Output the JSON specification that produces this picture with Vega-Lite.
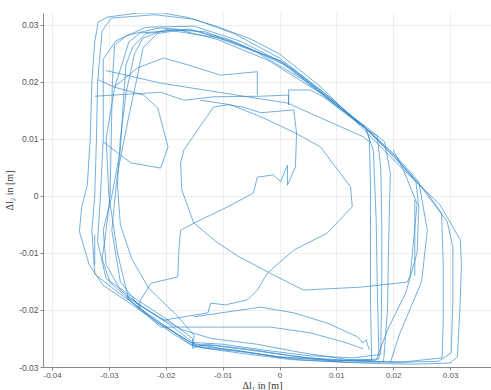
{
"$schema": "https://vega.github.io/schema/vega-lite/v6.json",
"width": 448, "height": 354,
"autosize": {"type": "none"},
"padding": {"left": 43, "top": 13, "right": 0, "bottom": 23},
"background": "white",
"config": {"view": {"stroke": null}, "axis": {"labelFont": "Liberation Sans", "labelFontSize": 8.5, "labelColor": "#555555", "gridColor": "#e8e8e8", "gridWidth": 0.8, "domainColor": "#8a8a8a", "tickColor": "#8a8a8a", "tickSize": 3, "titleFont": "Liberation Serif", "titleFontSize": 10, "titleFontWeight": "normal", "titleColor": "#333333"}},
"data": {"values": [
{"s":1,"x":-0.0319,"y":0.0305},{"s":1,"x":-0.0302,"y":0.0314},{"s":1,"x":-0.0249,"y":0.0321},{"s":1,"x":-0.0204,"y":0.0321},{"s":1,"x":-0.0161,"y":0.0313},{"s":1,"x":-0.0109,"y":0.0297},{"s":1,"x":-0.005,"y":0.0275},{"s":1,"x":0.0,"y":0.0249},{"s":1,"x":0.0072,"y":0.0192},{"s":1,"x":0.0142,"y":0.0123},{"s":1,"x":0.0212,"y":0.0052},{"s":1,"x":0.0282,"y":-0.0015},{"s":1,"x":0.0318,"y":-0.0077},{"s":1,"x":0.032,"y":-0.012},{"s":1,"x":0.0318,"y":-0.0182},{"s":1,"x":0.0313,"y":-0.0282},{"s":1,"x":0.03,"y":-0.0293},{"s":1,"x":0.024,"y":-0.0295},{"s":1,"x":0.017,"y":-0.0294},{"s":1,"x":0.01,"y":-0.0291},{"s":1,"x":0.002,"y":-0.0287},{"s":1,"x":-0.006,"y":-0.0277},{"s":1,"x":-0.0125,"y":-0.0268},{"s":1,"x":-0.0155,"y":-0.0262},{"s":1,"x":-0.019,"y":-0.024},{"s":1,"x":-0.025,"y":-0.0197},{"s":1,"x":-0.031,"y":-0.0157},{"s":1,"x":-0.0335,"y":-0.012},{"s":1,"x":-0.0352,"y":-0.0062},{"s":1,"x":-0.0348,"y":-0.002},{"s":1,"x":-0.0338,"y":0.002},{"s":1,"x":-0.0333,"y":0.01},{"s":1,"x":-0.033,"y":0.02},{"s":1,"x":-0.0325,"y":0.027},{"s":1,"x":-0.0319,"y":0.0305},
{"s":2,"x":-0.0312,"y":0.029},{"s":2,"x":-0.0296,"y":0.0312},{"s":2,"x":-0.022,"y":0.0318},{"s":2,"x":-0.015,"y":0.031},{"s":2,"x":-0.008,"y":0.0285},{"s":2,"x":0.0,"y":0.0242},{"s":2,"x":0.007,"y":0.0188},{"s":2,"x":0.0148,"y":0.0122},{"s":2,"x":0.02,"y":0.007},{"s":2,"x":0.025,"y":0.0015},{"s":2,"x":0.0295,"y":-0.0045},{"s":2,"x":0.0305,"y":-0.009},{"s":2,"x":0.0305,"y":-0.018},{"s":2,"x":0.0302,"y":-0.0275},{"s":2,"x":0.028,"y":-0.029},{"s":2,"x":0.02,"y":-0.0292},{"s":2,"x":0.01,"y":-0.0288},{"s":2,"x":0.0,"y":-0.0282},{"s":2,"x":-0.01,"y":-0.0268},{"s":2,"x":-0.0155,"y":-0.0258},{"s":2,"x":-0.021,"y":-0.0222},{"s":2,"x":-0.028,"y":-0.0172},{"s":2,"x":-0.0325,"y":-0.0137},{"s":2,"x":-0.033,"y":-0.006},{"s":2,"x":-0.0325,"y":0.0},{"s":2,"x":-0.0322,"y":0.01},{"s":2,"x":-0.032,"y":0.02},{"s":2,"x":-0.0312,"y":0.029},
{"s":3,"x":-0.029,"y":0.0265},{"s":3,"x":-0.0268,"y":0.0282},{"s":3,"x":-0.021,"y":0.0295},{"s":3,"x":-0.015,"y":0.029},{"s":3,"x":-0.009,"y":0.0272},{"s":3,"x":0.0,"y":0.0238},{"s":3,"x":0.008,"y":0.0178},{"s":3,"x":0.0151,"y":0.0121},{"s":3,"x":0.0158,"y":0.01},{"s":3,"x":0.016,"y":0.002},{"s":3,"x":0.016,"y":-0.008},{"s":3,"x":0.016,"y":-0.018},{"s":3,"x":0.0162,"y":-0.0288},{"s":3,"x":0.012,"y":-0.0287},{"s":3,"x":0.004,"y":-0.0275},{"s":3,"x":-0.004,"y":-0.026},{"s":3,"x":-0.012,"y":-0.025},{"s":3,"x":-0.017,"y":-0.0235},{"s":3,"x":-0.022,"y":-0.0208},{"s":3,"x":-0.0265,"y":-0.018},{"s":3,"x":-0.0298,"y":-0.0152},{"s":3,"x":-0.0312,"y":-0.011},{"s":3,"x":-0.0305,"y":-0.006},{"s":3,"x":-0.0298,"y":0.0},{"s":3,"x":-0.0296,"y":0.01},{"s":3,"x":-0.0294,"y":0.02},{"s":3,"x":-0.029,"y":0.0265},
{"s":4,"x":-0.027,"y":0.023},{"s":4,"x":-0.0258,"y":0.0262},{"s":4,"x":-0.0235,"y":0.0285},{"s":4,"x":-0.018,"y":0.0292},{"s":4,"x":-0.011,"y":0.0275},{"s":4,"x":-0.002,"y":0.0238},{"s":4,"x":0.007,"y":0.0182},{"s":4,"x":0.0151,"y":0.0119},{"s":4,"x":0.0172,"y":0.0105},{"s":4,"x":0.0178,"y":0.005},{"s":4,"x":0.018,"y":-0.005},{"s":4,"x":0.018,"y":-0.015},{"s":4,"x":0.0178,"y":-0.0278},{"s":4,"x":0.013,"y":-0.0284},{"s":4,"x":0.005,"y":-0.028},{"s":4,"x":-0.003,"y":-0.027},{"s":4,"x":-0.01,"y":-0.026},{"s":4,"x":-0.0152,"y":-0.0257},{"s":4,"x":-0.019,"y":-0.0228},{"s":4,"x":-0.024,"y":-0.0195},{"s":4,"x":-0.028,"y":-0.0165},{"s":4,"x":-0.0305,"y":-0.012},{"s":4,"x":-0.031,"y":-0.006},{"s":4,"x":-0.0295,"y":0.0},{"s":4,"x":-0.028,"y":0.008},{"s":4,"x":-0.0275,"y":0.016},{"s":4,"x":-0.027,"y":0.023},
{"s":5,"x":-0.0255,"y":0.025},{"s":5,"x":-0.024,"y":0.0277},{"s":5,"x":-0.02,"y":0.0292},{"s":5,"x":-0.013,"y":0.0288},{"s":5,"x":-0.006,"y":0.0262},{"s":5,"x":0.002,"y":0.0225},{"s":5,"x":0.009,"y":0.0172},{"s":5,"x":0.0151,"y":0.012},{"s":5,"x":0.0205,"y":0.0068},{"s":5,"x":0.024,"y":0.0025},{"s":5,"x":0.0245,"y":-0.002},{"s":5,"x":0.0242,"y":-0.01},{"s":5,"x":0.0222,"y":-0.017},{"s":5,"x":0.019,"y":-0.0235},{"s":5,"x":0.017,"y":-0.0288},{"s":5,"x":0.01,"y":-0.029},{"s":5,"x":0.002,"y":-0.028},{"s":5,"x":-0.006,"y":-0.0268},{"s":5,"x":-0.013,"y":-0.026},{"s":5,"x":-0.0153,"y":-0.0267},{"s":5,"x":-0.015,"y":-0.0245},{"s":5,"x":-0.018,"y":-0.021},{"s":5,"x":-0.023,"y":-0.0162},{"s":5,"x":-0.026,"y":-0.011},{"s":5,"x":-0.028,"y":-0.005},{"s":5,"x":-0.0285,"y":0.002},{"s":5,"x":-0.028,"y":0.01},{"s":5,"x":-0.027,"y":0.018},{"s":5,"x":-0.0255,"y":0.025},
{"s":6,"x":-0.024,"y":0.026},{"s":6,"x":-0.0215,"y":0.0285},{"s":6,"x":-0.016,"y":0.0293},{"s":6,"x":-0.009,"y":0.0275},{"s":6,"x":0.0,"y":0.0236},{"s":6,"x":0.008,"y":0.0176},{"s":6,"x":0.0155,"y":0.0115},{"s":6,"x":0.022,"y":0.005},{"s":6,"x":0.026,"y":0.0005},{"s":6,"x":0.0285,"y":-0.003},{"s":6,"x":0.0288,"y":-0.012},{"s":6,"x":0.0288,"y":-0.022},{"s":6,"x":0.0286,"y":-0.0284},{"s":6,"x":0.022,"y":-0.0291},{"s":6,"x":0.016,"y":-0.029},{"s":6,"x":0.01,"y":-0.0287},{"s":6,"x":0.004,"y":-0.0283},{"s":6,"x":-0.004,"y":-0.0272},{"s":6,"x":-0.011,"y":-0.0263},{"s":6,"x":-0.0155,"y":-0.0261},{"s":6,"x":-0.019,"y":-0.0236},{"s":6,"x":-0.024,"y":-0.0202},{"s":6,"x":-0.028,"y":-0.015},{"s":6,"x":-0.0295,"y":-0.006},{"s":6,"x":-0.0285,"y":0.004},{"s":6,"x":-0.0265,"y":0.014},{"s":6,"x":-0.025,"y":0.021},{"s":6,"x":-0.024,"y":0.026},
{"s":7,"x":-0.031,"y":0.024},{"s":7,"x":-0.0288,"y":0.0272},{"s":7,"x":-0.0235,"y":0.0296},{"s":7,"x":-0.015,"y":0.0298},{"s":7,"x":-0.007,"y":0.0272},{"s":7,"x":0.001,"y":0.0232},{"s":7,"x":0.008,"y":0.0176},{"s":7,"x":0.0152,"y":0.0118},{"s":7,"x":0.0165,"y":0.008},{"s":7,"x":0.017,"y":-0.004},{"s":7,"x":0.0172,"y":-0.016},{"s":7,"x":0.0175,"y":-0.0286},{"s":7,"x":0.01,"y":-0.0289},{"s":7,"x":0.0,"y":-0.0283},{"s":7,"x":-0.008,"y":-0.027},{"s":7,"x":-0.0153,"y":-0.0263},{"s":7,"x":-0.0153,"y":-0.025},{"s":7,"x":-0.02,"y":-0.0215},{"s":7,"x":-0.026,"y":-0.0176},{"s":7,"x":-0.0305,"y":-0.0145},{"s":7,"x":-0.032,"y":-0.008},{"s":7,"x":-0.0315,"y":0.0},{"s":7,"x":-0.031,"y":0.01},{"s":7,"x":-0.031,"y":0.024},
{"s":8,"x":-0.0265,"y":0.027},{"s":8,"x":-0.0245,"y":0.0286},{"s":8,"x":-0.019,"y":0.029},{"s":8,"x":-0.011,"y":0.0278},{"s":8,"x":-0.004,"y":0.0252},{"s":8,"x":0.004,"y":0.0205},{"s":8,"x":0.0105,"y":0.0155},{"s":8,"x":0.0153,"y":0.0121},{"s":8,"x":0.0185,"y":0.0095},{"s":8,"x":0.0195,"y":0.004},{"s":8,"x":0.0192,"y":-0.008},{"s":8,"x":0.019,"y":-0.02},{"s":8,"x":0.0183,"y":-0.0291},{"s":8,"x":0.012,"y":-0.0292},{"s":8,"x":0.003,"y":-0.0287},{"s":8,"x":-0.006,"y":-0.0274},{"s":8,"x":-0.014,"y":-0.0266},{"s":8,"x":-0.0215,"y":-0.0222},{"s":8,"x":-0.0265,"y":-0.0182},{"s":8,"x":-0.0285,"y":-0.01},{"s":8,"x":-0.03,"y":0.0},{"s":8,"x":-0.0305,"y":0.01},{"s":8,"x":-0.029,"y":0.019},{"s":8,"x":-0.0265,"y":0.027},
{"s":9,"x":-0.0319,"y":0.0204},{"s":9,"x":-0.0291,"y":0.0191},{"s":9,"x":-0.0239,"y":0.0177},{"s":9,"x":-0.0214,"y":0.0154},{"s":9,"x":-0.0204,"y":0.0116},{"s":9,"x":-0.0196,"y":0.0086},{"s":9,"x":-0.0209,"y":0.0049},{"s":9,"x":-0.0261,"y":0.0058},{"s":9,"x":-0.0284,"y":0.0075},{"s":9,"x":-0.031,"y":0.0095},
{"s":10,"x":-0.0291,"y":0.0191},{"s":10,"x":-0.0249,"y":0.0225},{"s":10,"x":-0.0204,"y":0.0242},{"s":10,"x":-0.0161,"y":0.023},{"s":10,"x":-0.0104,"y":0.0212},{"s":10,"x":-0.0039,"y":0.0218},{"s":10,"x":-0.0039,"y":0.0177},
{"s":11,"x":-0.0325,"y":0.0175},{"s":11,"x":-0.0209,"y":0.0182},{"s":11,"x":-0.0168,"y":0.0168},{"s":11,"x":-0.0116,"y":0.0174},{"s":11,"x":-0.0033,"y":0.0175},{"s":11,"x":0.0016,"y":0.0177},{"s":11,"x":0.0016,"y":0.016},{"s":11,"x":0.0016,"y":0.0186},{"s":11,"x":0.0054,"y":0.0186},{"s":11,"x":0.0077,"y":0.0174},{"s":11,"x":0.0142,"y":0.0125},
{"s":12,"x":-0.0305,"y":0.022},{"s":12,"x":-0.0209,"y":0.0198},{"s":12,"x":0.0014,"y":0.0163},{"s":12,"x":0.0147,"y":0.0104},{"s":12,"x":0.0158,"y":0.0095},
{"s":13,"x":0.02,"y":0.0081},{"s":13,"x":0.0218,"y":0.0046},{"s":13,"x":0.0242,"y":-0.0014},{"s":13,"x":0.023,"y":-0.0139},{"s":13,"x":0.0225,"y":-0.0151},{"s":13,"x":0.0142,"y":-0.016},{"s":13,"x":0.0042,"y":-0.0165},{"s":13,"x":-0.0004,"y":-0.0142},{"s":13,"x":-0.0074,"y":-0.0105},{"s":13,"x":-0.0109,"y":-0.0082},{"s":13,"x":-0.0151,"y":-0.0047},{"s":13,"x":-0.0172,"y":0.0011},{"s":13,"x":-0.0174,"y":0.0058},{"s":13,"x":-0.0168,"y":0.0081},{"s":13,"x":-0.0144,"y":0.0116},{"s":13,"x":-0.0116,"y":0.0156},{"s":13,"x":-0.0091,"y":0.016},{"s":13,"x":-0.0065,"y":0.0156},{"s":13,"x":-0.0033,"y":0.0146},{"s":13,"x":0.0025,"y":0.0151},{"s":13,"x":0.003,"y":0.0111},{"s":13,"x":0.0028,"y":0.0051},{"s":13,"x":0.0014,"y":0.0019},{"s":13,"x":0.0014,"y":0.0054},{"s":13,"x":0.0002,"y":0.0025},{"s":13,"x":-0.0011,"y":0.0037},{"s":13,"x":-0.0039,"y":0.0033},{"s":13,"x":-0.0046,"y":0.0005},{"s":13,"x":-0.0091,"y":-0.0019},{"s":13,"x":-0.0139,"y":-0.0042},{"s":13,"x":-0.0174,"y":-0.006},{"s":13,"x":-0.0177,"y":-0.0095},{"s":13,"x":-0.0179,"y":-0.0142},{"s":13,"x":-0.0226,"y":-0.0153},{"s":13,"x":-0.0244,"y":-0.0182},{"s":13,"x":-0.0249,"y":-0.02},
{"s":14,"x":-0.0139,"y":0.0168},{"s":14,"x":-0.0086,"y":0.016},{"s":14,"x":-0.0033,"y":0.0139},{"s":14,"x":0.0025,"y":0.0112},{"s":14,"x":0.0072,"y":0.0086},{"s":14,"x":0.0125,"y":0.0016},{"s":14,"x":0.0128,"y":-0.0019},{"s":14,"x":0.0084,"y":-0.0065},{"s":14,"x":0.0025,"y":-0.0095},{"s":14,"x":-0.0021,"y":-0.0135},{"s":14,"x":-0.0039,"y":-0.0165},{"s":14,"x":-0.0056,"y":-0.0182},{"s":14,"x":-0.0095,"y":-0.0191},{"s":14,"x":-0.0121,"y":-0.0188},{"s":14,"x":-0.0126,"y":-0.0205},{"s":14,"x":-0.0204,"y":-0.0218},{"s":14,"x":-0.027,"y":-0.0175},
{"s":15,"x":-0.0151,"y":-0.0212},{"s":15,"x":-0.0033,"y":-0.0195},{"s":15,"x":0.0025,"y":-0.0205},{"s":15,"x":0.0084,"y":-0.0223},{"s":15,"x":0.0137,"y":-0.0247},{"s":15,"x":0.0147,"y":-0.0258},{"s":15,"x":0.0152,"y":-0.0252},{"s":15,"x":0.0158,"y":-0.027},
{"s":16,"x":-0.027,"y":-0.0178},{"s":16,"x":-0.0209,"y":-0.023},{"s":16,"x":-0.0091,"y":-0.023},{"s":16,"x":-0.0016,"y":-0.023},{"s":16,"x":0.0054,"y":-0.024},{"s":16,"x":0.0119,"y":-0.0258},{"s":16,"x":0.0147,"y":-0.0268},
{"s":17,"x":-0.0325,"y":-0.0068},{"s":17,"x":-0.0325,"y":-0.0121},
{"s":18,"x":0.0151,"y":0.012},{"s":18,"x":0.0205,"y":0.007},{"s":18,"x":0.0245,"y":0.0025},{"s":18,"x":0.026,"y":-0.006},{"s":18,"x":0.025,"y":-0.015},{"s":18,"x":0.0212,"y":-0.024},{"s":18,"x":0.0195,"y":-0.0292},
{"s":19,"x":0.0238,"y":-0.0007},{"s":19,"x":0.0238,"y":-0.014}
]},
"mark": {"type": "line", "color": "#3189cc", "strokeWidth": 0.8, "opacity": 0.85, "clip": true},
"encoding": {
"x": {"field": "x", "type": "quantitative", "scale": {"domain": [-0.0416, 0.0372], "nice": false, "zero": false}, "axis": {"title": "Δl₁ in [m]", "values": [-0.04, -0.03, -0.02, -0.01, 0, 0.01, 0.02, 0.03], "labelExpr": "replace(format(datum.value, '.2~f'), '−', '-')", "labelPadding": 1, "labelFontSize": 8, "titleY": 21, "titleBaseline": "alphabetic", "titleX": 219}},
"y": {"field": "y", "type": "quantitative", "scale": {"domain": [-0.03, 0.0321], "nice": false, "zero": false}, "axis": {"title": "Δl₂ in [m]", "values": [-0.03, -0.02, -0.01, 0, 0.01, 0.02, 0.03], "labelExpr": "replace(format(datum.value, '.2~f'), '−', '-')", "titlePadding": 4, "labelPadding": 2}},
"detail": {"field": "s", "type": "nominal"},
"order": {"value": null}
}
}
